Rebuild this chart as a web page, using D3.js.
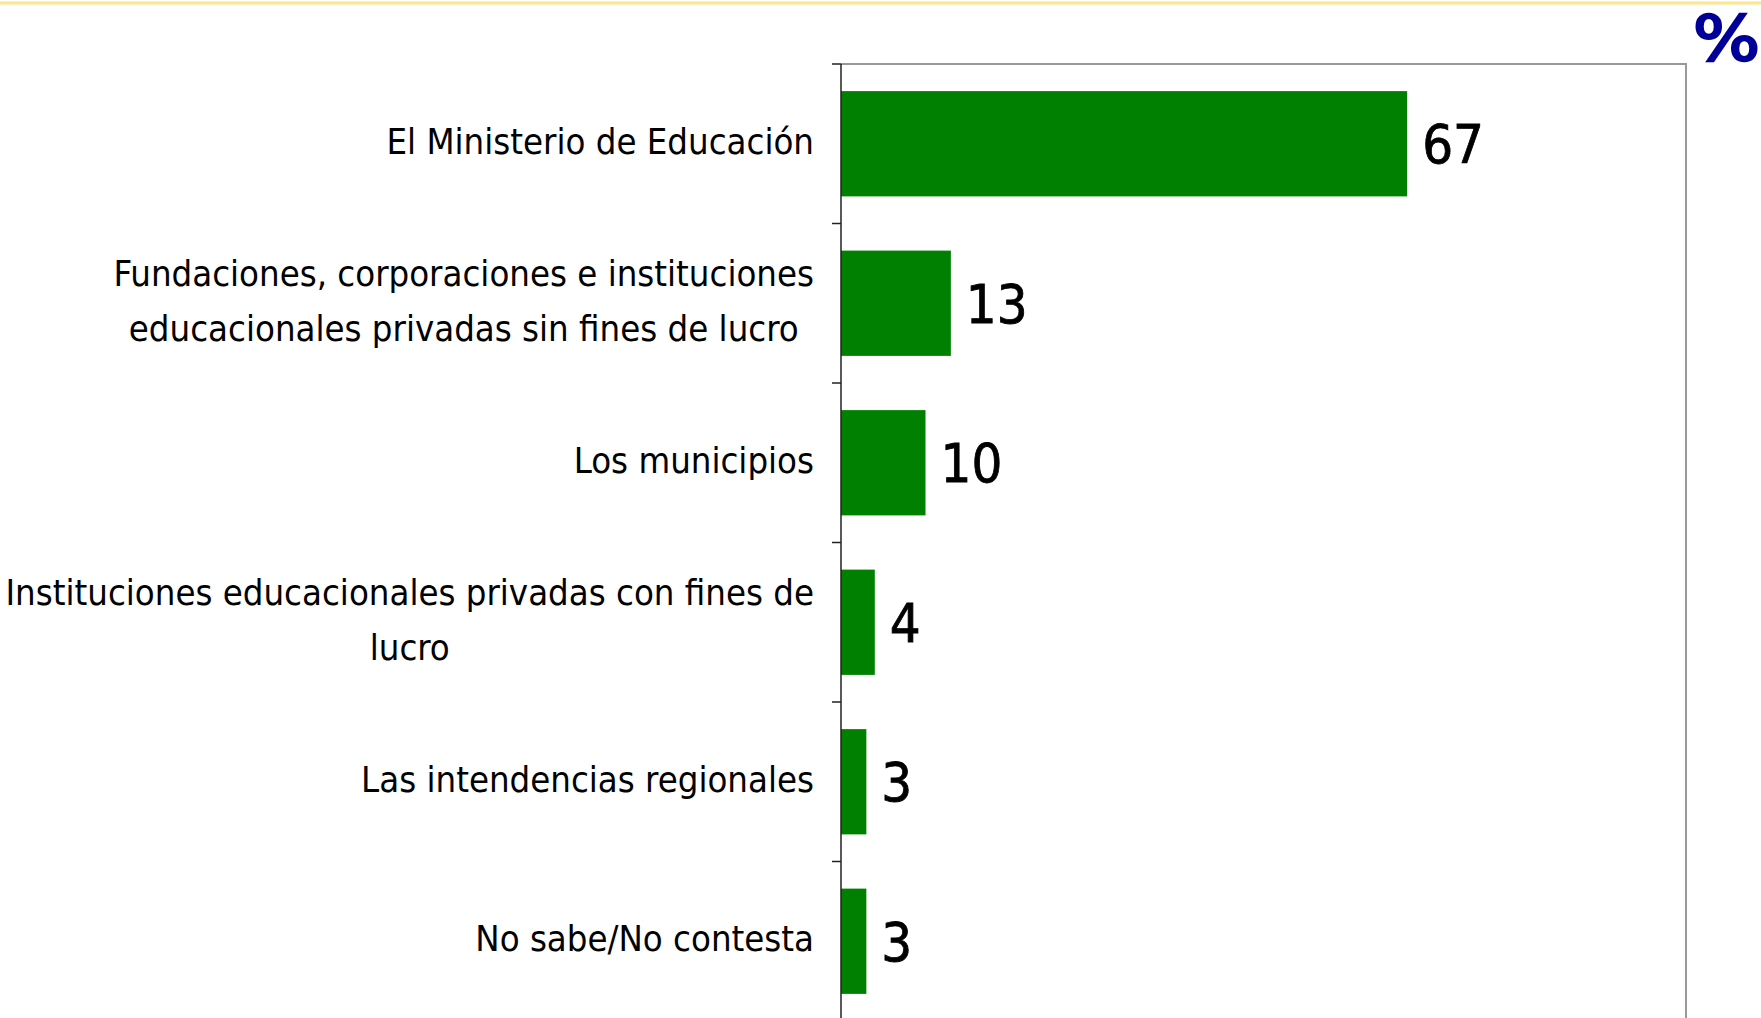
<!DOCTYPE html>
<html>
<head>
<meta charset="utf-8">
<script src="https://cdn.jsdelivr.net/npm/d3@7"></script>
<style>
  html, body { margin: 0; padding: 0; background: #fff; }
  svg { display: block; }
</style>
</head>
<body>
<svg id="chart" width="1761" height="1018"></svg>
<script>
// categories (line breaks as in the original labels) and percentages
var categories = [
  "El Ministerio de Educación",
  "Fundaciones, corporaciones e instituciones\neducacionales privadas sin fines de lucro",
  "Los municipios",
  "Instituciones educacionales privadas con fines de\nlucro",
  "Las intendencias regionales",
  "No sabe/No contesta"
];
var values = [67, 13, 10, 4, 3, 3];
var xDomain = [0, 100];
var unitLabel = "%";

var width = 1761, height = 1018;
var plotLeft = 841, plotRight = 1686, plotTop = 64, plotBottom = 1021;
var barColor = "#008000",
  labelFont = "'DejaVu Sans Condensed', 'DejaVu Sans', sans-serif";

var svg = d3.select("#chart");

// thin yellow rule across the top
svg.append("line")
  .attr("x1", 0).attr("x2", width)
  .attr("y1", 3).attr("y2", 3)
  .attr("stroke", "#FFE68C")
  .attr("stroke-width", 3);

// unit sign (a bit wider than the font draws it)
svg.append("text")
  .attr("transform", "translate(" + (width - 1) + ",38) scale(1.12,1)")
  .attr("text-anchor", "end")
  .attr("dominant-baseline", "central")
  .attr("font-family", "'DejaVu Sans', sans-serif")
  .attr("font-size", "63px")
  .attr("fill", "#000099")
  .attr("stroke", "#000099")
  .attr("stroke-width", 2.5)
  .text(unitLabel);

var x = d3.scaleLinear().domain(xDomain).range([plotLeft, plotRight]);
var y = d3.scaleBand()
  .domain(categories)
  .range([plotTop, plotBottom])
  .paddingInner(0.34)
  .paddingOuter(0.17);

var step = y.step();

// frame: top and right in grey
svg.append("path")
  .attr("d", "M" + plotLeft + "," + plotTop + "H" + plotRight + "V" + plotBottom)
  .attr("fill", "none")
  .attr("stroke", "#999999")
  .attr("stroke-width", 2);

// bars
svg.selectAll(".bar")
  .data(values)
  .enter()
  .append("rect")
  .attr("class", "bar")
  .attr("x", x(0))
  .attr("y", function(d, i){ return y(categories[i]); })
  .attr("width", function(d){ return x(d) - x(0); })
  .attr("height", y.bandwidth())
  .attr("fill", barColor);

// left axis with ticks at band boundaries
svg.append("line")
  .attr("x1", plotLeft).attr("x2", plotLeft)
  .attr("y1", plotTop).attr("y2", plotBottom)
  .attr("stroke", "#222222")
  .attr("stroke-width", 1.5);

svg.selectAll(".tick")
  .data(categories)
  .enter()
  .append("line")
  .attr("class", "tick")
  .attr("x1", plotLeft - 9).attr("x2", plotLeft)
  .attr("y1", function(d){ return y(d) - y.paddingInner() * step / 2; })
  .attr("y2", function(d){ return y(d) - y.paddingInner() * step / 2; })
  .attr("stroke", "#222222")
  .attr("stroke-width", 1.5);

// category labels: block right-aligned, lines centred within the block
var lineGap = 55;
var labelRight = plotLeft - 27;
svg.selectAll(".cat")
  .data(categories)
  .enter()
  .append("text")
  .attr("class", "cat")
  .attr("font-family", labelFont)
  .attr("font-size", "36.2px")
  .attr("fill", "#000")
  .attr("text-anchor", "middle")
  .attr("dominant-baseline", "central")
  .each(function(d){
    var t = d3.select(this);
    var lines = d.split("\n");
    var cy = y(d) + y.bandwidth() / 2 - 3;
    lines.forEach(function(line, i){
      t.append("tspan")
        .attr("y", cy + (i - (lines.length - 1) / 2) * lineGap)
        .text(line);
    });
    var maxW = 0;
    t.selectAll("tspan").each(function(){
      maxW = Math.max(maxW, this.getComputedTextLength());
    });
    t.selectAll("tspan").attr("x", labelRight - maxW / 2);
  });

// value labels
svg.selectAll(".val")
  .data(values)
  .enter()
  .append("text")
  .attr("class", "val")
  .attr("x", function(d){ return x(d) + 15; })
  .attr("y", function(d, i){ return y(categories[i]) + y.bandwidth() / 2 + 1; })
  .attr("dominant-baseline", "central")
  .attr("font-family", labelFont)
  .attr("font-size", "54px")
  .attr("fill", "#000")
  .attr("stroke", "#000")
  .attr("stroke-width", 0.8)
  .text(function(d){ return d; });
</script>
</body>
</html>
